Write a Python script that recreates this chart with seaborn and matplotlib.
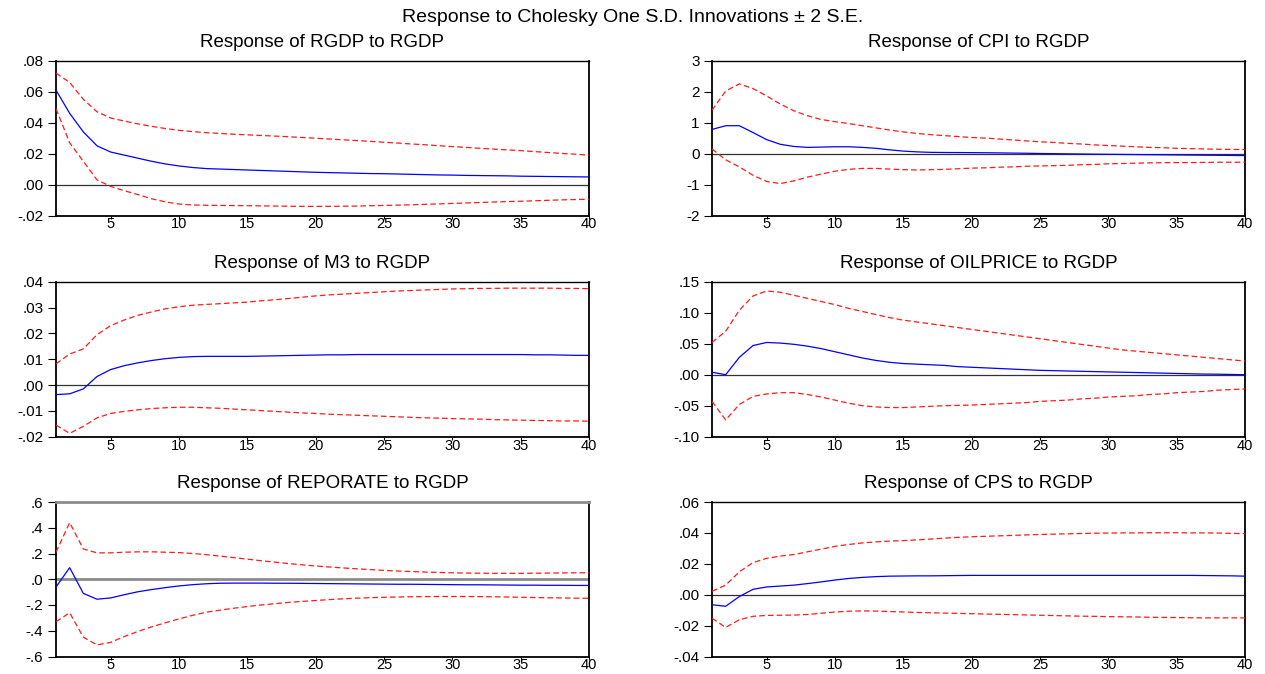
import numpy as np
import pandas as pd
import matplotlib
matplotlib.use("Agg")
import matplotlib.pyplot as plt
import seaborn as sns

periods = list(range(1, 41))

rgdp_resp = [.061, .046, .034, .025, .021, .019, .017, .015, .0133, .012, .011, .0103, .0100, .0097, .0094, .0091, .0088, .0085, .0082, .0079,
             .0077, .0075, .0073, .0071, .0070, .0068, .0066, .0064, .0062, .0061, .0059, .0058, .0057, .0056, .0054, .0053, .0052, .0051, .0050, .0049]
rgdp_up = [.072, .066, .055, .047, .043, .041, .0392, .0376, .0362, .035, .0342, .0335, .033, .0325, .0321, .0317, .0313, .0309, .0304, .0299,
           .0294, .0289, .0284, .0279, .0273, .0268, .0262, .0257, .0251, .0245, .024, .0234, .0229, .0224, .0219, .0213, .0207, .0201, .0196, .019]
rgdp_lo = [.049, .027, .015, .003, -.0012, -.004, -.0065, -.0092, -.0112, -.0126, -.0132, -.0134, -.0135, -.0136, -.0137, -.0138, -.0139, -.0140, -.0141, -.0141,
           -.0141, -.0140, -.0139, -.0137, -.0135, -.0133, -.0131, -.0128, -.0125, -.0122, -.0119, -.0116, -.0113, -.0110, -.0108, -.0105, -.0102, -.0099, -.0097, -.0095]

cpi_resp = [.78, .9, .9, .68, .45, .3, .23, .2, .21, .22, .22, .2, .17, .12, .08, .055, .04, .035, .033, .03,
            .027, .022, .016, .01, .003, -.003, -.009, -.014, -.019, -.024, -.028, -.032, -.036, -.04, -.044, -.048, -.052, -.056, -.06, -.065]
cpi_up = [1.4, 2.02, 2.25, 2.1, 1.86, 1.6, 1.38, 1.22, 1.1, 1.03, .97, .9, .83, .76, .7, .65, .61, .58, .55, .52,
          .5, .47, .44, .41, .38, .36, .33, .31, .28, .26, .24, .22, .2, .19, .17, .16, .15, .14, .135, .13]
cpi_lo = [.15, -.2, -.43, -.7, -.9, -.97, -.88, -.76, -.66, -.57, -.51, -.48, -.48, -.5, -.52, -.53, -.52, -.51, -.49, -.47,
          -.46, -.44, -.43, -.41, -.4, -.39, -.38, -.36, -.35, -.33, -.32, -.31, -.3, -.295, -.29, -.29, -.285, -.28, -.28, -.28]

m3_resp = [-.0037, -.0034, -.0015, .0033, .006, .0075, .0086, .0095, .0102, .0107, .011, .0111, .0111, .0111, .0111, .0112, .0113, .0114, .0115, .0116,
           .0117, .0117, .0118, .0118, .0118, .0118, .0118, .0118, .0118, .0118, .0118, .0118, .0118, .0118, .0118, .0117, .0117, .0116, .0115, .0115]
m3_up = [.0082, .012, .014, .0195, .023, .0252, .027, .0283, .0295, .0303, .0309, .0312, .0315, .0318, .0321, .0326, .033, .0335, .034, .0345,
         .0349, .0352, .0355, .0358, .0361, .0364, .0366, .0368, .037, .0372, .0373, .0374, .0374, .0375, .0375, .0375, .0375, .0374, .0374, .0373]
m3_lo = [-.0155, -.0187, -.016, -.0127, -.011, -.0102, -.0096, -.0091, -.0088, -.0086, -.0086, -.0088, -.009, -.0093, -.0096, -.0099, -.0102, -.0105, -.0108, -.011,
         -.0113, -.0115, -.0117, -.0119, -.0121, -.0123, -.0125, -.0127, -.0128, -.013, -.0131, -.0132, -.0134, -.0135, -.0136, -.0137, -.0138, -.0139, -.0139, -.014]

oil_resp = [.004, .0, .028, .047, .052, .051, .049, .046, .042, .037, .032, .027, .023, .02, .018, .017, .016, .015, .013, .012,
            .011, .01, .009, .008, .007, .0065, .006, .0055, .005, .0045, .004, .0035, .003, .0025, .002, .0015, .001, .0008, .0004, .0]
oil_up = [.052, .07, .104, .127, .135, .133, .128, .123, .118, .113, .107, .102, .097, .092, .088, .085, .082, .079, .076, .073,
          .07, .067, .064, .061, .058, .055, .052, .049, .046, .043, .04, .038, .036, .034, .032, .03, .028, .026, .024, .022]
oil_lo = [-.043, -.073, -.048, -.035, -.031, -.029, -.029, -.032, -.036, -.041, -.046, -.05, -.052, -.053, -.053, -.052, -.051, -.05, -.0495, -.049,
          -.048, -.047, -.046, -.045, -.043, -.042, -.041, -.039, -.038, -.036, -.035, -.034, -.032, -.031, -.029, -.028, -.027, -.025, -.024, -.023]

repo_resp = [-.06, .09, -.11, -.155, -.145, -.12, -.097, -.08, -.065, -.052, -.042, -.035, -.031, -.03, -.03, -.03, -.031, -.031, -.032, -.033,
             -.034, -.035, -.036, -.037, -.038, -.039, -.039, -.04, -.041, -.042, -.043, -.043, -.044, -.045, -.046, -.046, -.047, -.047, -.048, -.048]
repo_up = [.21, .44, .235, .205, .205, .21, .213, .213, .21, .207, .2, .191, .18, .168, .156, .144, .133, .122, .112, .103,
           .095, .088, .081, .075, .069, .064, .06, .056, .053, .05, .048, .047, .046, .046, .046, .047, .048, .049, .05, .051]
repo_lo = [-.33, -.26, -.45, -.51, -.49, -.445, -.405, -.37, -.338, -.308, -.28, -.256, -.24, -.225, -.212, -.2, -.19, -.18, -.172, -.165,
           -.158, -.152, -.147, -.143, -.14, -.138, -.136, -.135, -.134, -.134, -.134, -.135, -.136, -.138, -.14, -.142, -.144, -.145, -.147, -.148]

cps_resp = [-.0065, -.0075, -.0012, .0035, .005, .0056, .0062, .0072, .0083, .0095, .0105, .0112, .0117, .012, .0121, .0122, .0122, .0123, .0124, .0125,
            .0125, .0125, .0125, .0125, .0125, .0125, .0125, .0125, .0125, .0125, .0125, .0125, .0125, .0125, .0125, .0125, .0124, .0123, .0122, .012]
cps_up = [.0022, .0062, .0148, .0208, .0235, .025, .026, .0278, .0295, .0313, .0325, .0335, .0342, .0347, .035, .0355, .036, .0366, .0371, .0375,
          .0378, .0381, .0384, .0387, .039, .0392, .0394, .0396, .0398, .0399, .04, .04, .0401, .0401, .0401, .04, .04, .0399, .0397, .0395]
cps_lo = [-.0152, -.0212, -.0162, -.014, -.0134, -.0133, -.0132, -.0128, -.012, -.0112, -.0107, -.0105, -.0106, -.0109, -.0112, -.0115, -.0117, -.0119, -.0121, -.0123,
          -.0125, -.0127, -.0129, -.0131, -.0133, -.0135, -.0137, -.0139, -.014, -.0142, -.0143, -.0144, -.0146, -.0147, -.0148, -.0149, -.015, -.015, -.015, -.015]

titles = ["Response of RGDP to RGDP", "Response of CPI to RGDP",
          "Response of M3 to RGDP", "Response of OILPRICE to RGDP",
          "Response of REPORATE to RGDP", "Response of CPS to RGDP"]
y_ticks = [[-.02, .00, .02, .04, .06, .08],
           [-2, -1, 0, 1, 2, 3],
           [-.02, -.01, .00, .01, .02, .03, .04],
           [-.10, -.05, .00, .05, .10, .15],
           [-.6, -.4, -.2, .0, .2, .4, .6],
           [-.04, -.02, .00, .02, .04, .06]]
y_ticklabels = [["-.02", ".00", ".02", ".04", ".06", ".08"],
                ["-2", "-1", "0", "1", "2", "3"],
                ["-.02", "-.01", ".00", ".01", ".02", ".03", ".04"],
                ["-.10", "-.05", ".00", ".05", ".10", ".15"],
                ["-.6", "-.4", "-.2", ".0", ".2", ".4", ".6"],
                ["-.04", "-.02", ".00", ".02", ".04", ".06"]]
x_ticks = [5, 10, 15, 20, 25, 30, 35, 40]
suptitle = "Response to Cholesky One S.D. Innovations \u00b1 2 S.E."

series = [(rgdp_resp, rgdp_up, rgdp_lo), (cpi_resp, cpi_up, cpi_lo),
          (m3_resp, m3_up, m3_lo), (oil_resp, oil_up, oil_lo),
          (repo_resp, repo_up, repo_lo), (cps_resp, cps_up, cps_lo)]

sns.set_style("ticks")
plt.rcParams["font.family"] = ["Liberation Sans", "DejaVu Sans"]

fig = plt.figure(figsize=(12.65, 6.74), dpi=100)
lefts = [56 / 1265, 712 / 1265]
width = 533 / 1265
rows = [(60.7, 215.5), (281.7, 436.7), (502.0, 656.5)]

for i, (resp, up, lo) in enumerate(series):
    r, c = divmod(i, 2)
    top, bot = rows[r]
    ax = fig.add_axes([lefts[c], 1 - bot / 674, width, (bot - top) / 674])
    df = pd.DataFrame({"period": periods, "resp": resp, "up": up, "lo": lo})
    if i == 4:
        ax.axhline(0, color="#8c8c8c", lw=2.0, zorder=1)
    else:
        ax.axhline(0, color="#333333", lw=0.9, zorder=1)
    sns.lineplot(data=df, x="period", y="up", ax=ax, color="#ff1a1a", lw=0.9,
                 linestyle=(0, (4.5, 2.5)), zorder=3)
    sns.lineplot(data=df, x="period", y="lo", ax=ax, color="#ff1a1a", lw=0.9,
                 linestyle=(0, (4.5, 2.5)), zorder=3)
    sns.lineplot(data=df, x="period", y="resp", ax=ax, color="#0000ff", lw=0.9, zorder=4)
    ax.set_xlim(1, 40)
    ax.set_ylim(y_ticks[i][0], y_ticks[i][-1])
    ax.set_xticks(x_ticks)
    ax.set_xticklabels([str(t) for t in x_ticks])
    ax.set_yticks(y_ticks[i])
    ax.set_yticklabels(y_ticklabels[i])
    ax.set_xlabel("")
    ax.set_ylabel("")
    ax.set_title(titles[i], fontsize=13.5, pad=10, color="black")
    for s in ax.spines.values():
        s.set_visible(True)
        s.set_color("black")
        s.set_linewidth(1.3)
    ax.spines["top"].set_linewidth(1.0)
    if i == 4:
        ax.spines["top"].set_color("#8c8c8c")
        ax.spines["top"].set_linewidth(2.0)
    ax.tick_params(axis="y", direction="out", length=6, width=0.8, labelsize=11, pad=3, colors="black")
    ax.tick_params(axis="x", direction="out", length=2.5, width=0.8, labelsize=10.5, pad=-1.2, colors="black")

fig.text(0.5, 1 - 17 / 674, suptitle, ha="center", va="center", fontsize=14, color="black")
fig.savefig("out.png", dpi=100, facecolor="white")
